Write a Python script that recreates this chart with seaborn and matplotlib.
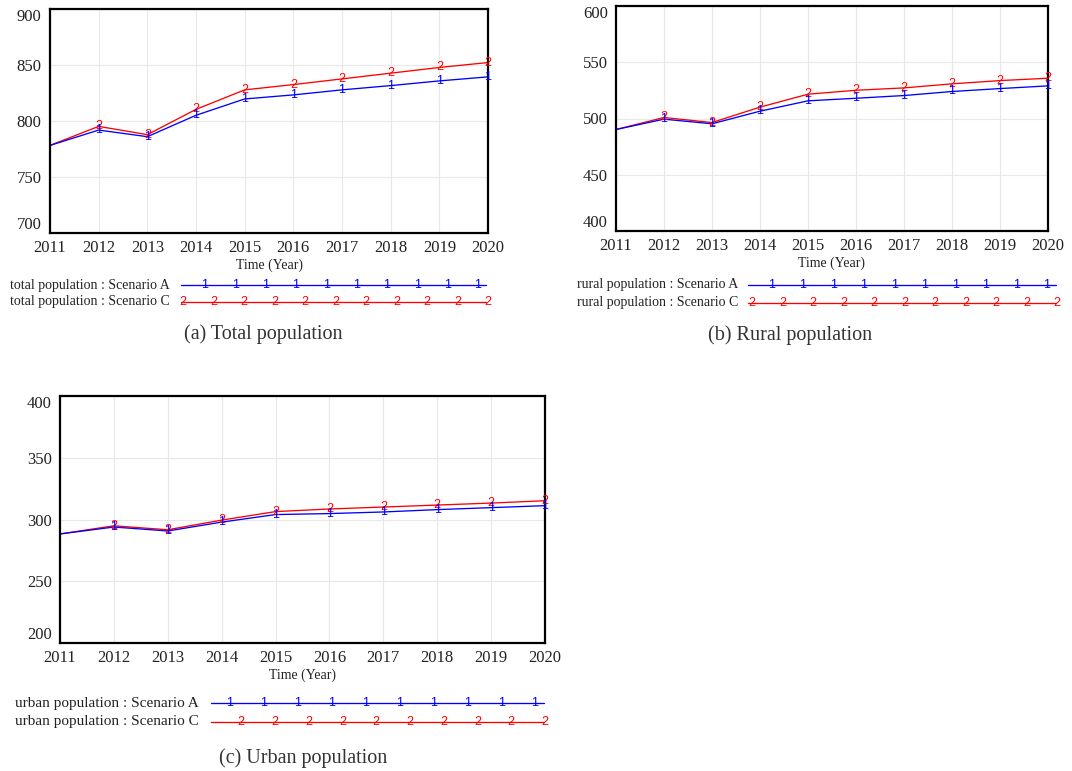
import matplotlib
matplotlib.use("Agg")
import matplotlib.pyplot as plt
import numpy as np
import pandas as pd
import seaborn as sns

# Simulated population (ten thousand persons) under two scenarios
years = list(range(2011, 2021))

total_a = [778.2, 791.9, 786.0, 805.1, 819.7, 823.3, 827.8, 831.6, 835.8, 839.4]
total_c = [778.2, 795.2, 787.8, 810.4, 827.8, 832.5, 837.6, 842.7, 847.8, 852.2]
rural_a = [490.2, 499.4, 495.3, 506.5, 515.7, 518.0, 520.4, 524.0, 526.6, 529.0]
rural_c = [490.2, 500.9, 496.4, 510.1, 521.6, 525.1, 527.2, 530.8, 533.7, 535.8]
urban_a = [288.3, 293.9, 290.7, 297.9, 304.0, 304.8, 306.1, 308.0, 309.6, 311.2]
urban_c = [288.3, 294.9, 291.7, 299.5, 306.4, 308.5, 310.1, 311.7, 313.3, 315.2]

scenarios = ["Scenario A", "Scenario C"]
scenario_colors = {"Scenario A": "#0000ff", "Scenario C": "#ff0000"}
scenario_tags = {"Scenario A": "1", "Scenario C": "2"}

panels = [
    dict(name="total population", a=total_a, c=total_c, ylim=(700, 900),
         yticks=[700, 750, 800, 850, 900], caption="(a) Total population"),
    dict(name="rural population", a=rural_a, c=rural_c, ylim=(400, 600),
         yticks=[400, 450, 500, 550, 600], caption="(b) Rural population"),
    dict(name="urban population", a=urban_a, c=urban_c, ylim=(200, 400),
         yticks=[200, 250, 300, 350, 400], caption="(c) Urban population"),
]

# Page layout in pixels: plot box, legend block and caption for each panel
layout = [
    dict(box=(50, 9, 488, 233), text_right=170, rows=(285, 302),
         line=(181, 486), tags1=(205, 478, 10), tags2=(183, 488, 11),
         caption_xy=(263, 334), legend_fs=10),
    dict(box=(616, 6, 1048, 231), text_right=738, rows=(285, 303),
         line=(748, 1056), tags1=(772, 1047, 10), tags2=(752, 1057, 11),
         caption_xy=(790, 335), legend_fs=10),
    dict(box=(60, 396, 545, 643), text_right=199, rows=(703, 722),
         line=(211, 544), tags1=(230, 535, 10), tags2=(241, 545, 10),
         caption_xy=(303, 758), legend_fs=11),
]

sns.set_theme(style="white")
plt.rcParams["font.family"] = ["Liberation Serif", "DejaVu Serif"]

W, H = 1072, 771
fig = plt.figure(figsize=(W / 100, H / 100), dpi=100)
fig.patch.set_facecolor("white")


def px_rect(l, t, r, b):
    return [l / W, 1 - b / H, (r - l) / W, (b - t) / H]


TAG_FONT = ["Liberation Sans", "DejaVu Sans"]
TAG_FS = 9
LINE_W = 0.95

for spec, lay in zip(panels, layout):
    ax = fig.add_axes(px_rect(*lay["box"]))
    df = pd.DataFrame({
        "year": years * 2,
        "value": spec["a"] + spec["c"],
        "scenario": ["Scenario A"] * len(years) + ["Scenario C"] * len(years),
    })
    sns.lineplot(data=df, x="year", y="value", hue="scenario",
                 hue_order=["Scenario C", "Scenario A"], palette=scenario_colors,
                 linewidth=LINE_W, legend=False, ax=ax)

    # numbered tags along each curve
    for sc, vals in (("Scenario C", spec["c"]), ("Scenario A", spec["a"])):
        for yr, v in zip(years[1:], vals[1:]):
            ax.text(yr, v, scenario_tags[sc], color=scenario_colors[sc],
                    ha="center", va="center", fontsize=TAG_FS, family=TAG_FONT,
                    zorder=5)

    ax.set_xlim(years[0], years[-1])
    ax.set_ylim(*spec["ylim"])
    ax.set_xticks(years)
    ax.set_xticklabels([str(y) for y in years], fontsize=12)
    ax.set_yticks(spec["yticks"])
    ax.set_yticklabels([str(t) for t in spec["yticks"]], fontsize=12)
    labels = ax.get_yticklabels()
    labels[0].set_va("bottom")
    labels[-1].set_va("top")
    ax.tick_params(axis="both", length=0, colors="#222222")
    ax.tick_params(axis="x", pad=5)
    ax.tick_params(axis="y", pad=6)
    ax.grid(True, color="#e8e8e8", linewidth=0.8)
    ax.set_axisbelow(True)
    for s in ax.spines.values():
        s.set_color("black")
        s.set_linewidth(1.6)
    ax.set_xlabel("Time (Year)", fontsize=10, labelpad=2, color="#222222")
    ax.set_ylabel("")

    # series key beneath the plot
    lx0, lx1 = lay["line"]
    ry_a, ry_c = lay["rows"]
    key = fig.add_axes(px_rect(lay["text_right"] - 200, ry_a - 10, lx1 + 8, ry_c + 10))
    key.set_xlim(lay["text_right"] - 200, lx1 + 8)
    key.set_ylim(ry_c + 10, ry_a - 10)
    key.axis("off")
    for sc, ry, tags in (("Scenario A", ry_a, lay["tags1"]),
                         ("Scenario C", ry_c, lay["tags2"])):
        key.plot([lx0, lx1], [ry, ry], color=scenario_colors[sc], lw=LINE_W)
        for tx in np.linspace(*tags):
            key.text(tx, ry, scenario_tags[sc], color=scenario_colors[sc],
                     ha="center", va="center", fontsize=TAG_FS, family=TAG_FONT)
        key.text(lay["text_right"], ry, f"{spec['name']} : {sc}",
                 ha="right", va="center", fontsize=lay["legend_fs"],
                 color="#222222")

    cx, cy = lay["caption_xy"]
    fig.text(cx / W, 1 - cy / H, spec["caption"], ha="center", va="center",
             fontsize=14.5, color="#333333")

fig.savefig("out.png", dpi=100)
